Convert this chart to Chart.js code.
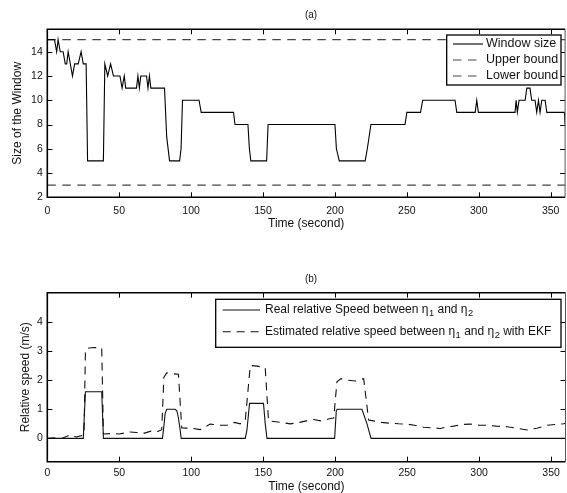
<!DOCTYPE html>
<html><head><meta charset="utf-8">
<script src="https://cdn.jsdelivr.net/npm/chart.js@4"></script>
<style>
html,body{margin:0;padding:0;background:#fff;}
#wrap{position:relative;width:567px;height:493px;overflow:hidden;}
canvas{position:absolute;left:0;}
</style></head><body>
<div id="wrap">
<canvas id="c1" width="567" height="246" style="top:0"></canvas>
<canvas id="c2" width="567" height="247" style="top:246px"></canvas>
</div>
<script>
// ---------- data ----------
const xTicks = [0, 50, 100, 150, 200, 250, 300, 350];
const yTicksTop = [2, 4, 6, 8, 10, 12, 14];
const yTicksBottom = [0, 1, 2, 3, 4];

const windowT = [0,5,6.5,7.5,9,11,12.5,13.5,14.5,17.5,19,21.5,23.5,25,27,28,39,40,42,44,46,50.5,52,53.5,54.5,62,63,64,65,69,70,71,72,81.5,83,85,92,93,94,105.5,107,129.5,130.5,139.5,140.5,141.5,152.5,153.5,200,201,203,221,222.5,225,248.7,250,259.5,261,283.5,284.7,297.5,298.6,299.7,325.2,326,326.8,328,332.2,333.4,335.6,336.8,339.1,340.3,341.5,342.6,343.8,346.1,347.3,359.5,360];
const windowV = [15,15,14,15,14,14,13,13,14,12,13,13,14,13,13,5,5,13,12,13,12,12,11,12,11,11,12,11,12,12,11,12,11,11,7,5,5,6,10,10,9,9,8,8,6,5,5,8,8,6,5,5,6,8,8,9,9,10,10,9,9,10,9,9,10,9,10,10,11,11,10,10,9,10,9,10,10,9,9,8];
const upperBound = 15;
const lowerBound = 3;

const realT = [0,25,26.5,37.8,39,80,80.7,81.9,83,88.8,90,91.1,92.3,93,137.5,138.7,140.5,150.2,151.4,152.6,199.6,200.8,201.7,218.6,222.1,224.9,360];
const realV = [0,0,1.6,1.6,0,0,0.29,0.86,1.0,1.0,0.95,0.7,0.29,0,0,0.29,1.2,1.2,0.5,0,0,0.97,1.0,1.0,0.5,0,0];

const estT = [0,6.5,10,15.8,20,24,25.5,26.5,29,33,37.8,39,45.9,50,57.5,62,66.8,72,76,79.5,81,83,87,91.1,93.4,100,106.2,113.1,120,124.8,130,134,137.5,141,146,151.4,153.7,161.8,168.8,173.4,180,185,190,196.6,199,201.2,204,208.2,214,219.8,223.2,226.7,232,238.3,244,249.9,255,261.5,268,273.1,278,282.3,288,294,300,305.6,312,319.5,326,333.4,340,347.3,353,358.8,360];
const estV = [0,0.02,0,0.12,0.05,0.1,0.15,3.05,3.1,3.12,3.1,0.15,0.17,0.15,0.22,0.2,0.17,0.25,0.22,0.3,2.1,2.25,2.22,2.2,0.36,0.35,0.3,0.49,0.45,0.45,0.55,0.5,0.6,2.5,2.48,2.42,0.6,0.55,0.5,0.53,0.6,0.65,0.6,0.68,0.7,1.94,2.05,2.0,1.97,2.05,0.63,0.6,0.55,0.52,0.5,0.49,0.45,0.38,0.36,0.34,0.4,0.42,0.48,0.49,0.45,0.45,0.42,0.4,0.35,0.29,0.35,0.45,0.48,0.5,0.52];

const labelsTop = ['Window size', 'Upper bound', 'Lower bound'];
const labelsBottom = ['Real relative Speed between η_1 and η_2', 'Estimated relative speed between η_1 and η_2 with EKF'];

// ---------- helpers ----------
const FONT = "'Liberation Sans', Arial, Helvetica, sans-serif";
const pts = (t, v) => t.map((x, i) => ({x, y: v[i]}));
const flat = (v) => [{x: 0, y: v}, {x: 360, y: v}];

function drawRich(ctx, text, x, y, size) {
  const parts = text.split(/(_\w)/);
  let cx = x;
  for (const p of parts) {
    if (!p) continue;
    if (p[0] === '_') {
      ctx.font = (size * 0.78) + 'px ' + FONT;
      ctx.fillText(p.slice(1), cx + 0.5, y + size * 0.3);
      cx += ctx.measureText(p.slice(1)).width + 0.5;
    } else {
      ctx.font = size + 'px ' + FONT;
      ctx.fillText(p, cx, y);
      cx += ctx.measureText(p).width;
    }
  }
}

const matPlugin = {
  id: 'matFrame',
  afterDraw(chart, args, opts) {
    const {ctx, chartArea: a, scales} = chart;
    ctx.save();
    // inward ticks
    ctx.strokeStyle = '#000';
    ctx.lineWidth = 1;
    const tl = 5;
    ctx.beginPath();
    scales.x.ticks.forEach(t => {
      const px = Math.round(scales.x.getPixelForValue(t.value)) + 0.5;
      ctx.moveTo(px, a.bottom); ctx.lineTo(px, a.bottom - tl);
      ctx.moveTo(px, a.top); ctx.lineTo(px, a.top + tl);
    });
    scales.y.ticks.forEach(t => {
      const py = Math.round(scales.y.getPixelForValue(t.value)) + 0.5;
      ctx.moveTo(a.left, py); ctx.lineTo(a.left + tl, py);
      ctx.moveTo(a.right, py); ctx.lineTo(a.right - tl, py);
    });
    ctx.stroke();
    // frame
    ctx.lineWidth = 1.6;
    ctx.strokeStyle = '#000';
    ctx.beginPath();
    ctx.moveTo(a.right, a.top); ctx.lineTo(a.left, a.top); ctx.lineTo(a.left, a.bottom); ctx.lineTo(a.right, a.bottom);
    ctx.stroke();
    ctx.lineWidth = 1;
    ctx.strokeStyle = '#555';
    ctx.beginPath();
    ctx.moveTo(a.right, a.top); ctx.lineTo(a.right, a.bottom);
    ctx.stroke();
    // panel title
    ctx.fillStyle = '#111';
    ctx.font = '10px ' + FONT;
    ctx.textAlign = 'center';
    ctx.textBaseline = 'middle';
    ctx.fillText(opts.title, opts.titleX, opts.titleY);
    // legend
    const L = opts.legend;
    ctx.fillStyle = '#fff';
    ctx.fillRect(L.x, L.y, L.w, L.h);
    ctx.lineWidth = 1.3;
    ctx.strokeStyle = '#000';
    ctx.strokeRect(L.x, L.y, L.w, L.h);
    ctx.textAlign = 'left';
    ctx.textBaseline = 'middle';
    chart.data.datasets.forEach((ds, i) => {
      const ry = L.rows[i];
      ctx.beginPath();
      ctx.setLineDash(ds.borderDash || []);
      ctx.strokeStyle = ds.borderColor;
      ctx.lineWidth = ds.borderWidth;
      ctx.moveTo(L.s0, ry); ctx.lineTo(L.s1, ry);
      ctx.stroke();
      ctx.setLineDash([]);
      ctx.fillStyle = '#111';
      drawRich(ctx, ds.label, L.tx, ry, L.size);
    });
    ctx.restore();
  }
};

function xScale(pad, titlePad, h) {
  return {
    type: 'linear', min: 0, max: 360,
    afterBuildTicks: s => { s.ticks = xTicks.map(v => ({value: v})); },
    afterFit: s => { s.height = h; },
    grid: {display: false, drawTicks: false},
    border: {display: false},
    ticks: {padding: pad, color: '#111', font: {family: FONT, size: 10.5}, maxRotation: 0},
    title: {display: true, text: 'Time (second)', color: '#111', font: {family: FONT, size: 12, lineHeight: 1}, padding: {top: 0, bottom: titlePad}}
  };
}
function yScale(min, max, ticks, label, titlePad) {
  return {
    type: 'linear', min, max,
    afterBuildTicks: s => { s.ticks = ticks.map(v => ({value: v})); },
    afterFit: s => { s.width = 47.3; },
    grid: {display: false, drawTicks: false},
    border: {display: false},
    ticks: {padding: 4.5, color: '#111', font: {family: FONT, size: 10.5}},
    title: {display: true, text: label, color: '#111', font: {family: FONT, size: 12, lineHeight: 1}, padding: {top: titlePad, bottom: 0}}
  };
}

Chart.defaults.font.family = FONT;

new Chart(document.getElementById('c1'), {
  type: 'line',
  data: {datasets: [
    {label: labelsTop[0], data: pts(windowT, windowV), borderColor: '#000', borderWidth: 1.1, pointRadius: 0, tension: 0},
    {label: labelsTop[1], data: flat(upperBound), borderColor: '#444', borderWidth: 1.2, borderDash: [8.5, 6.5], pointRadius: 0},
    {label: labelsTop[2], data: flat(lowerBound), borderColor: '#444', borderWidth: 1.2, borderDash: [8.5, 6.5], pointRadius: 0}
  ]},
  options: {
    responsive: false, animation: false, devicePixelRatio: 1,
    layout: {padding: {top: 29.3, right: 1.5, left: 0, bottom: 0}},
    scales: {x: xScale(7.5, 16, 48.7), y: yScale(2, 15.85, yTicksTop, 'Size of the Window', 12)},
    plugins: {
      legend: {display: false}, tooltip: {enabled: false},
      matFrame: {title: '(a)', titleX: 311, titleY: 15,
        legend: {x: 446.7, y: 35, w: 114.3, h: 50, rows: [44, 60, 76], s0: 453, s1: 483, tx: 486, size: 12.5}}
    }
  },
  plugins: [matPlugin]
});

new Chart(document.getElementById('c2'), {
  type: 'line',
  data: {datasets: [
    {label: labelsBottom[0], data: pts(realT, realV), borderColor: '#111', borderWidth: 1.1, pointRadius: 0, tension: 0},
    {label: labelsBottom[1], data: pts(estT, estV), borderColor: '#111', borderWidth: 1.1, borderDash: [8, 6], pointRadius: 0, tension: 0}
  ]},
  options: {
    responsive: false, animation: false, devicePixelRatio: 1,
    layout: {padding: {top: 46.7, right: 1.5, left: 0, bottom: 0}},
    scales: {x: xScale(5.5, 0.5, 31.3), y: yScale(-0.8, 5, yTicksBottom, 'Relative speed (m/s)', 19.7)},
    plugins: {
      legend: {display: false}, tooltip: {enabled: false},
      matFrame: {title: '(b)', titleX: 311, titleY: 33.3,
        legend: {x: 215.7, y: 53.3, w: 345.3, h: 48, rows: [64, 85.7], s0: 222.7, s1: 260, tx: 265, size: 12}}
    }
  },
  plugins: [matPlugin]
});
</script>
</body></html>
